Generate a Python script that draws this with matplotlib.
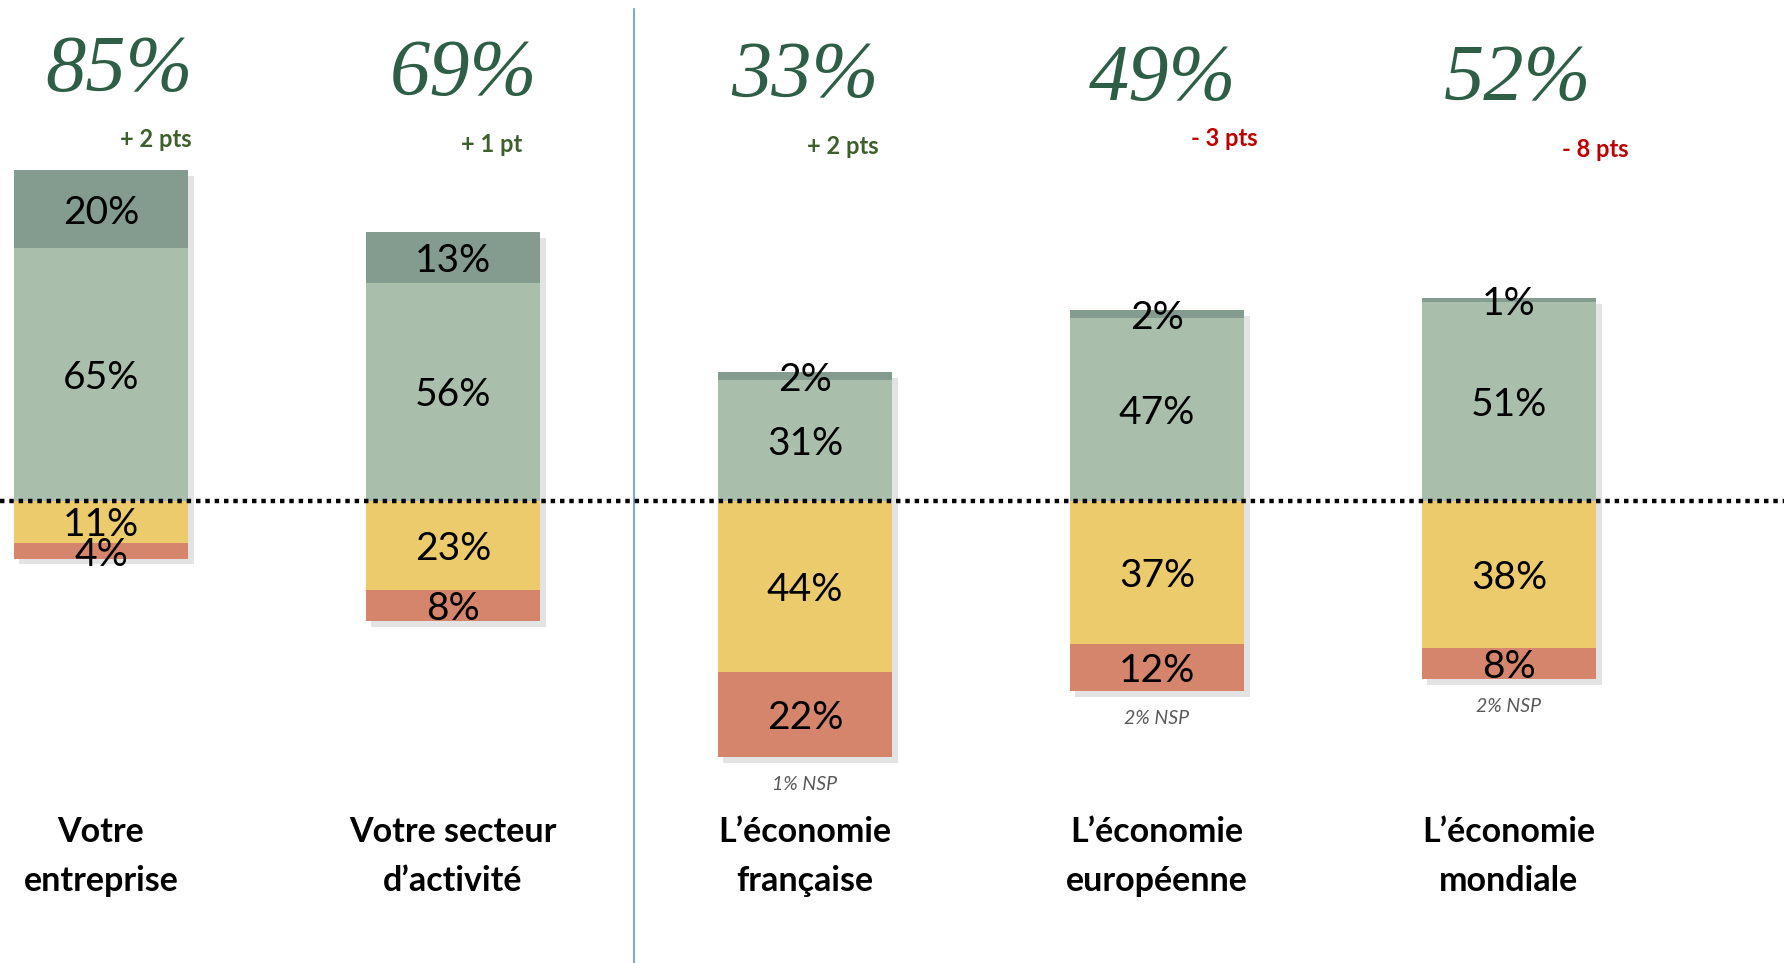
import matplotlib
matplotlib.use("Agg")
import matplotlib.pyplot as plt
import matplotlib.patheffects as pe

# Données
categories = ["Votre\nentreprise", "Votre secteur\nd\u2019activit\u00e9",
              "L\u2019\u00e9conomie\nfran\u00e7aise", "L\u2019\u00e9conomie\neurop\u00e9enne",
              "L\u2019\u00e9conomie\nmondiale"]
tres_positif = [20, 13, 2, 2, 1]
plutot_positif = [65, 56, 31, 47, 51]
plutot_negatif = [11, 23, 44, 37, 38]
tres_negatif = [4, 8, 22, 12, 8]
totaux = ["85%", "69%", "33%", "49%", "52%"]
evolutions = ["+ 2 pts", "+ 1 pt", "+ 2 pts", "- 3 pts", "- 8 pts"]
nsp = ["", "", "1% NSP", "2% NSP", "2% NSP"]

# Couleurs
c_tres_pos = "#849c8f"
c_plutot_pos = "#aabfab"
c_plutot_neg = "#ebcb6b"
c_tres_neg = "#d4856c"
vert_titre = "#2e5e45"
vert_evol = "#3d5f2b"
rouge_evol = "#c00000"

# placement des textes d'évolution (décalage par rapport à la barre)
evol_dx = [0.155, 0.109, 0.106, 0.19, 0.245]
evol_y = [92.9, 91.5, 91.2, 93.2, 90.3]
total_dx = [0.05, 0.03, 0.0, 0.015, 0.025]
total_y = [110.5, 109.5, 108.8, 108.0, 108.0]

fig = plt.figure(figsize=(17.92, 9.63), dpi=100)
ax = fig.add_axes([0, 0, 1, 1])
ax.set_xlim(-0.287, 4.804)
ax.set_ylim(-119.0, 128.8)
ax.axis("off")

x = list(range(len(categories)))
largeur = 0.497

# ombre portée sous chaque barre complète
neg_total = [a + b for a, b in zip(plutot_negatif, tres_negatif)]
pos_total = [a + b for a, b in zip(plutot_positif, tres_positif)]
fond = ax.bar(x, [p + n for p, n in zip(pos_total, neg_total)], largeur,
              bottom=[-n for n in neg_total], color="white", zorder=1)
for b in fond:
    b.set_path_effects([pe.SimplePatchShadow(offset=(4, -4), shadow_rgbFace="0.45", alpha=0.2),
                        pe.Normal()])

neg_bas = [-a for a in plutot_negatif]
ax.bar(x, plutot_positif, largeur, color=c_plutot_pos, zorder=2)
ax.bar(x, tres_positif, largeur, bottom=plutot_positif, color=c_tres_pos, zorder=2)
ax.bar(x, neg_bas, largeur, color=c_plutot_neg, zorder=2)
ax.bar(x, [-a for a in tres_negatif], largeur, bottom=neg_bas, color=c_tres_neg, zorder=2)

police = "Lato"
for i in x:
    segments = [
        (plutot_positif[i] / 2, plutot_positif[i]),
        (plutot_positif[i] + tres_positif[i] / 2, tres_positif[i]),
        (-plutot_negatif[i] / 2, plutot_negatif[i]),
        (-plutot_negatif[i] - tres_negatif[i] / 2, tres_negatif[i]),
    ]
    for y, v in segments:
        ax.text(i, y - 0.9, f"{v}%", ha="center", va="center", fontsize=28,
                family=police, color="black", zorder=4)

    # total positif
    ax.text(i + total_dx[i], total_y[i], totaux[i], ha="center", va="center", fontsize=58,
            family="Liberation Serif", style="italic", color=vert_titre)
    # evolution
    couleur = vert_evol if evolutions[i].startswith("+") else rouge_evol
    ax.text(i + evol_dx[i], evol_y[i], evolutions[i], ha="center", va="center", fontsize=17,
            family=police, fontweight="bold", color=couleur)
    # NSP
    if nsp[i]:
        bas = -neg_total[i]
        ax.text(i, bas - 7, nsp[i], ha="center", va="center", fontsize=14,
                family=police, style="italic", color="#595959")
    # libellés
    ax.text(i, -91.5, categories[i], ha="center", va="center", fontsize=24.5,
            family=police, fontweight="bold", color="black", linespacing=1.65)

# ligne pointillée au zéro
ax.plot([-0.287, 4.78], [0, 0], color="black", lw=3.2, ls=(0, (1, 1.1)), zorder=5)
# séparateur vertical
ax.plot([1.514, 1.514], [-119, 126.5], color="#5b9bd5", lw=1.2, zorder=1)

fig.savefig("out.png", dpi=100)
